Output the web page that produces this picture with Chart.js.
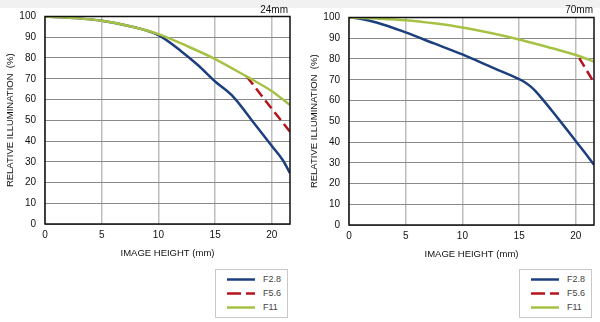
<!DOCTYPE html>
<html>
<head>
<meta charset="utf-8">
<script src="https://cdn.jsdelivr.net/npm/chart.js@4"></script>
<style>
  html, body { margin:0; padding:0; background:#fff; width:600px; height:322px; overflow:hidden; font-family:"Liberation Sans", Arial, sans-serif; }
  .band { position:absolute; left:0; top:0; width:600px; height:8px; background:#f1f1f1; }
  .wrap { position:absolute; width:300px; height:265px; }
  .focal { position:absolute; font-size:10px; color:#111; text-align:right; }
  .legend { position:absolute; width:71px; height:47px; border:1px solid #c8c8c8; background:#fff; }
  .legend .row { position:absolute; left:10px; height:14px; width:60px; font-size:9px; color:#444; }
  .legend svg { position:absolute; left:0; top:0; }
  .legend span { position:absolute; left:37px; top:1px; }
</style>
</head>
<body>
<div class="band"></div>

<div class="wrap" style="left:0;top:0;"><canvas id="c24" width="300" height="265"></canvas></div>
<div class="wrap" style="left:304px;top:1px;"><canvas id="c70" width="296" height="265"></canvas></div>

<div class="focal" style="left:238px;top:4px;width:50px;">24mm</div>
<div class="focal" style="left:543px;top:4px;width:50px;">70mm</div>

<div class="legend" style="left:215px;top:269px;" id="lg24"></div>
<div class="legend" style="left:519px;top:269px;" id="lg70"></div>

<script>
// ---- data (24mm) ----
const x24_F28 = [0, 2.5, 5, 7.5, 10, 12, 13.5, 15, 16.6, 18.4, 20, 21, 21.6];
const y24_F28 = [100, 99.3, 98, 95.3, 91, 83.3, 76.5, 68.7, 61.3, 48.8, 37.6, 30.5, 24.5];
const x24_F56 = [17.8, 19.7, 21.6];
const y24_F56 = [71, 57.6, 44.5];
const x24_F11 = [0, 2.5, 5, 7.5, 10, 12.5, 15, 17.8, 20, 21.6];
const y24_F11 = [100, 99.3, 98, 95.3, 91.5, 85.8, 79.5, 71, 64, 57.3];

// ---- data (70mm) ----
const x70_F28 = [0, 1, 2.5, 5, 7.5, 10, 12.5, 15, 15.5, 16, 16.5, 17, 18, 19, 20, 21, 21.6];
const y70_F28 = [100, 99.4, 97.5, 92.8, 87.5, 82.2, 76.2, 70.3, 68.8, 66.8, 64.2, 61, 54.3, 47.4, 40.4, 33.4, 29];
const x70_F56 = [20.3, 20.9, 21.6];
const y70_F56 = [80.4, 75, 68.6];
const x70_F11 = [0, 2.5, 5, 7.5, 10, 12.5, 15, 17.5, 20, 21.6];
const y70_F11 = [100, 99.5, 98.7, 97.2, 95.2, 92.5, 89.4, 85.8, 81.9, 78.7];

const seriesNames = ['F2.8', 'F5.6', 'F11'];
const xTicks = [0, 5, 10, 15, 20];
const xMax = 21.6;
const yTicks = [0, 10, 20, 30, 40, 50, 60, 70, 80, 90, 100];

const COLORS = ['#1c3f7e', '#b5141c', '#a6c244'];
const DASHES = [[], [10, 5], []];

function pts(xs, ys) { return xs.map((x, i) => ({ x: x, y: ys[i] })); }

const borderPlugin = {
  id: 'frame',
  afterDraw(chart) {
    const { ctx, chartArea: a } = chart;
    ctx.save();
    ctx.strokeStyle = '#111';
    ctx.lineWidth = 1.5;
    ctx.strokeRect(a.left, a.top, a.right - a.left, a.bottom - a.top);
    ctx.restore();
  }
};

function makeChart(id, sets, rightPad) {
  const datasets = sets.map((s, i) => ({
    label: seriesNames[i],
    data: pts(s[0], s[1]),
    borderColor: COLORS[i],
    backgroundColor: COLORS[i],
    borderWidth: 2.5,
    borderDash: DASHES[i],
    pointRadius: 0,
    cubicInterpolationMode: 'monotone',
    fill: false,
    order: i === 2 ? 0 : (i === 1 ? 1 : 2)
  }));
  return new Chart(document.getElementById(id), {
    type: 'line',
    data: { datasets: datasets },
    options: {
      responsive: false,
      animation: false,
      events: [],
      layout: { padding: { top: 16.5, right: rightPad, left: 0, bottom: 0 } },
      plugins: { legend: { display: false }, tooltip: { enabled: false } },
      scales: {
        x: {
          type: 'linear',
          min: 0, max: xMax,
          afterBuildTicks(scale) { scale.ticks = xTicks.map(v => ({ value: v })); },
          afterFit(scale) { scale.height = 41; },
          grid: { color: '#bdbdbd', lineWidth: 1.5, drawTicks: false },
          border: { display: false },
          ticks: { padding: 5, color: '#111', font: { family: 'Liberation Sans', size: 10 }, maxRotation: 0 },
          title: { display: true, text: 'IMAGE HEIGHT (mm)', color: '#111',
                   font: { family: 'Liberation Sans', size: 9.5 }, padding: { top: 0, bottom: 6.3 } }
        },
        y: {
          type: 'linear',
          min: 0, max: 100,
          afterBuildTicks(scale) { scale.ticks = yTicks.map(v => ({ value: v })); },
          afterFit(scale) { scale.width = 45; },
          grid: { color: '#8a8a8a', lineWidth: 1, drawTicks: false },
          border: { display: false },
          ticks: { padding: 9, color: '#111', font: { family: 'Liberation Sans', size: 10 } },
          title: { display: true, text: 'RELATIVE ILLUMINATION  (%)', color: '#111',
                   font: { family: 'Liberation Sans', size: 9.5 }, padding: { top: 4.3, bottom: 0 } }
        }
      }
    },
    plugins: [borderPlugin]
  });
}

makeChart('c24', [[x24_F28, y24_F28], [x24_F56, y24_F56], [x24_F11, y24_F11]], 10);
makeChart('c70', [[x70_F28, y70_F28], [x70_F56, y70_F56], [x70_F11, y70_F11]], 6);

function buildLegend(id) {
  const el = document.getElementById(id);
  const tops = [3, 17, 31];
  seriesNames.forEach((name, i) => {
    const row = document.createElement('div');
    row.className = 'row';
    row.style.top = tops[i] + 'px';
    const dash = DASHES[i].length ? 'stroke-dasharray="14 5"' : '';
    row.innerHTML = '<svg width="32" height="14"><line x1="1" y1="6.5" x2="29" y2="6.5" stroke="' + COLORS[i] +
      '" stroke-width="2.5" ' + dash + '/></svg><span>' + name + '</span>';
    el.appendChild(row);
  });
}
buildLegend('lg24');
buildLegend('lg70');
</script>
</body>
</html>
